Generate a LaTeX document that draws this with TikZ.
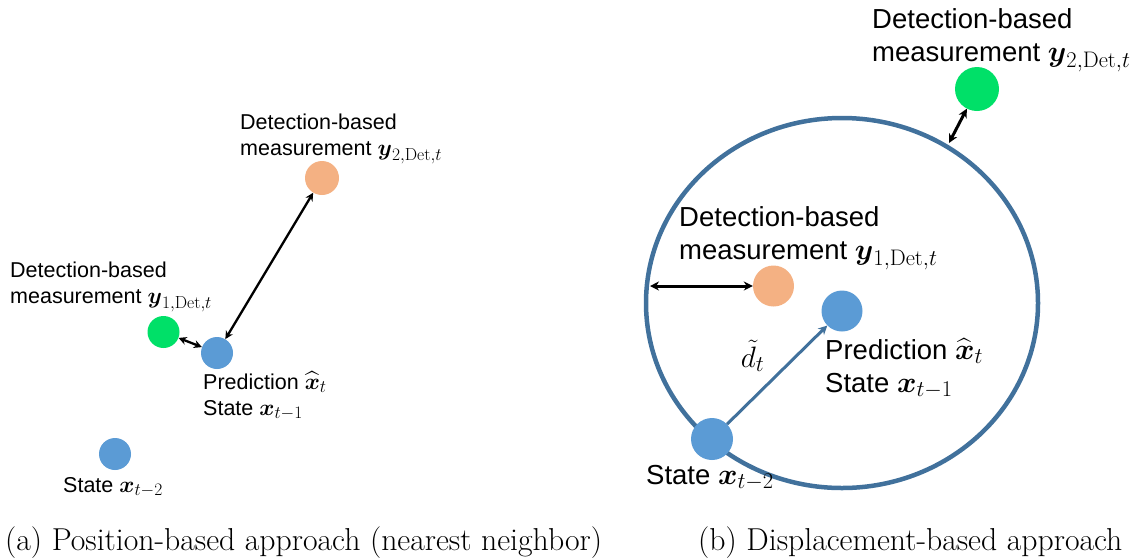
\documentclass[tikz,border=0pt]{standalone}
\usepackage{amsmath}
\usepackage{fix-cm}
\usepackage{fontspec}
\newfontfamily\labelfont{Liberation Sans}
\usetikzlibrary{arrows.meta,shapes.geometric}
% slightly larger formulas and indices next to the sans-serif labels
\DeclareMathSizes{21.5}{23}{17.5}{13}
\DeclareMathSizes{27.5}{29.5}{22.5}{17}
\definecolor{ptblue}{HTML}{5B9BD5}
\definecolor{ptorange}{HTML}{F4B183}
\definecolor{ptgreen}{HTML}{00E068}
\definecolor{ringblue}{HTML}{41719C}
\tikzset{
  pt/.style={circle,inner sep=0pt,minimum size=#1,draw=none},
  smalllbl/.style={inner sep=0pt,anchor=base west,align=left,
    font=\labelfont\fontsize{21.5}{26}\selectfont},
  biglbl/.style={inner sep=0pt,anchor=base west,align=left,
    font=\labelfont\fontsize{27.5}{33}\selectfont},
  dist/.style={{Stealth[length=8pt,width=8pt]}-{Stealth[length=8pt,width=8pt]},line width=2.3pt,black},
  distbig/.style={{Stealth[length=9pt,width=9pt]}-{Stealth[length=9pt,width=9pt]},line width=3pt,black},
  capt/.style={inner sep=0pt,anchor=base west,font=\fontsize{31.7}{36}\selectfont},
}
\begin{document}
\begin{tikzpicture}[x=1pt,y=-1pt]
\useasboundingbox (0,0) rectangle (1134,558);

% (a) position-based matching
\node[pt=34pt,fill=ptorange] (a2) at (322,178) {};
\node[pt=32pt,fill=ptgreen] (a1) at (163.5,332) {};
\node[pt=32pt,fill=ptblue] (apred) at (217,353) {};
\node[pt=32pt,fill=ptblue] (aprev) at (115,454) {};
\draw[dist] (apred) -- (a2);
\draw[dist] (a1) -- (apred);
\node[smalllbl] (la2) at (240,155) {Detection-based\\measurement $\boldsymbol{y}_{2,\mathrm{Det},t}$};
\node[smalllbl] (la1) at (10,303) {Detection-based\\measurement $\boldsymbol{y}_{1,\mathrm{Det},t}$};
\node[smalllbl] (lapred) at (203,415) {Prediction $\widehat{\boldsymbol{x}}_t$\\State $\boldsymbol{x}_{t-1}$};
\node[smalllbl] (laprev) at (63,492) {State $\boldsymbol{x}_{t-2}$};

% (b) displacement-based matching
\node[ellipse,draw=ringblue,line width=4.5pt,outer sep=0pt,inner sep=0pt,
  minimum width=392pt,minimum height=370pt] (ring) at (842,303) {};
\node[pt=44pt,fill=ptgreen] (b2) at (977,89) {};
\node[pt=41pt,fill=ptorange] (b1) at (773.5,286) {};
\node[pt=41pt,fill=ptblue] (bpred) at (842,311) {};
\node[pt=42pt,fill=ptblue] (bprev) at (712,439) {};
\coordinate (rleft) at (650,286);
\coordinate (rtop) at (949,143);
\draw[distbig] (rleft) -- (b1);
\draw[distbig] (rtop) -- (b2);
\draw[-{Stealth[length=9pt,width=9pt]},line width=3pt,ringblue] (bprev) -- (bpred)
  node[pos=0.45,above left=3pt,black,font=\fontsize{27.5}{33}\selectfont] (dlab) {$\tilde{d}_t$};
\node[biglbl] (lb2) at (872,61) {Detection-based\\measurement $\boldsymbol{y}_{2,\mathrm{Det},t}$};
\node[biglbl] (lb1) at (679,259) {Detection-based\\measurement $\boldsymbol{y}_{1,\mathrm{Det},t}$};
\node[biglbl] (lbpred) at (825,392) {Prediction $\widehat{\boldsymbol{x}}_t$\\State $\boldsymbol{x}_{t-1}$};
\node[biglbl] (lbprev) at (646,484) {State $\boldsymbol{x}_{t-2}$};

% sub-captions
\node[capt] (capa) at (5,550) {(a) Position-based approach (nearest neighbor)};
\node[capt] (capb) at (698,550) {(b) Displacement-based approach};
\end{tikzpicture}
\end{document}
